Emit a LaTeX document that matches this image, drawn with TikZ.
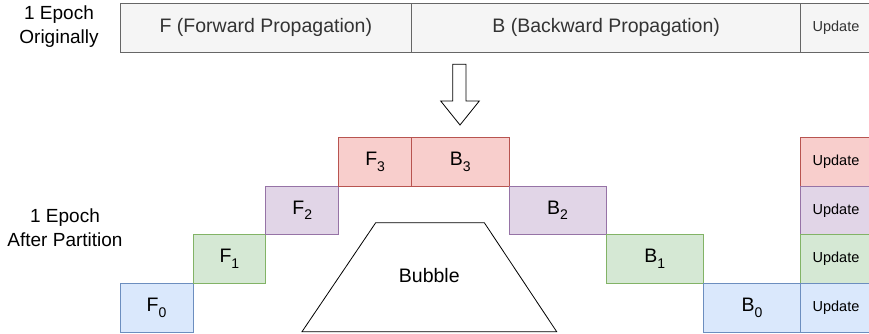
\documentclass[tikz,border=0pt]{standalone}
\usepackage{fontspec}
\setmainfont{Liberation Sans}

% draw.io-like palette
\definecolor{greyfill}{HTML}{F5F5F5}
\definecolor{greyline}{HTML}{666666}
\definecolor{greytext}{HTML}{333333}
\definecolor{bluefill}{HTML}{DAE8FC}
\definecolor{blueline}{HTML}{6C8EBF}
\definecolor{greenfill}{HTML}{D5E8D4}
\definecolor{greenline}{HTML}{82B366}
\definecolor{purplefill}{HTML}{E1D5E7}
\definecolor{purpleline}{HTML}{9673A6}
\definecolor{redfill}{HTML}{F8CECC}
\definecolor{redline}{HTML}{B85450}

% stage index written below the letter
\newcommand\stageidx[1]{\raisebox{-5.5pt}{\fontsize{14}{14}\selectfont #1}}

\begin{document}
\begin{tikzpicture}[x=1pt,y=-1pt,
  cell/.style={draw, line width=0.8pt, inner sep=0pt, minimum height=48.7pt,
    font=\fontsize{19.5}{22}\selectfont},
  fcell/.style={cell, minimum width=72.9pt},
  bcell/.style={cell, minimum width=97.2pt},
  ucell/.style={cell, minimum width=70.8pt, font=\fontsize{14.5}{17}\selectfont},
  lvlgrey/.style={fill=greyfill, draw=greyline, text=greytext},
  lvl0/.style={fill=bluefill, draw=blueline},
  lvl1/.style={fill=greenfill, draw=greenline},
  lvl2/.style={fill=purplefill, draw=purpleline},
  lvl3/.style={fill=redfill, draw=redline},
  caption/.style={align=center, font=\fontsize{19}{24}\selectfont},
]
\useasboundingbox (0,0) rectangle (869,334);

% one epoch before partitioning
\node[cell, lvlgrey, minimum width=291.7pt] (fwd) at (265.85,27.75) {F (Forward Propagation)};
\node[cell, lvlgrey, minimum width=388.9pt] (bwd) at (606.15,27.75) {B (Backward Propagation)};
\node[ucell, lvlgrey] (upd) at (836,27.75) {Update};
\node[caption] (orig) at (59,27) {1 Epoch\\Originally};

% block arrow
\draw[line width=0.8pt] (452.7,64.3) -- (466,64.3) -- (466,101) -- (479.3,101)
  -- (460,125) -- (440.7,101) -- (452.7,101) -- cycle;

% one epoch after partitioning
\node[caption] (part) at (65,228) {1 Epoch\\After Partition};

\node[fcell, lvl0] (f0) at (156.45,307.65) {F\stageidx{0}};
\node[fcell, lvl1] (f1) at (229.35,259.0) {F\stageidx{1}};
\node[fcell, lvl2] (f2) at (302.25,210.35) {F\stageidx{2}};
\node[fcell, lvl3] (f3) at (375.15,161.65) {F\stageidx{3}};

\node[bcell, lvl3] (b3) at (460.3,161.65) {B\stageidx{3}};
\node[bcell, lvl2] (b2) at (557.5,210.35) {B\stageidx{2}};
\node[bcell, lvl1] (b1) at (654.7,259.0) {B\stageidx{1}};
\node[bcell, lvl0] (b0) at (751.9,307.65) {B\stageidx{0}};

\node[ucell, lvl3] (u3) at (836,161.65) {Update};
\node[ucell, lvl2] (u2) at (836,210.35) {Update};
\node[ucell, lvl1] (u1) at (836,259.0) {Update};
\node[ucell, lvl0] (u0) at (836,307.65) {Update};

% idle time of the pipeline
\draw[line width=0.8pt] (302,331.7) -- (375.7,222.7) -- (484.3,222.7) -- (556.7,331.7) -- cycle;
\node[font=\fontsize{19.5}{22}\selectfont] (bubble) at (429.3,276) {Bubble};
\end{tikzpicture}
\end{document}
